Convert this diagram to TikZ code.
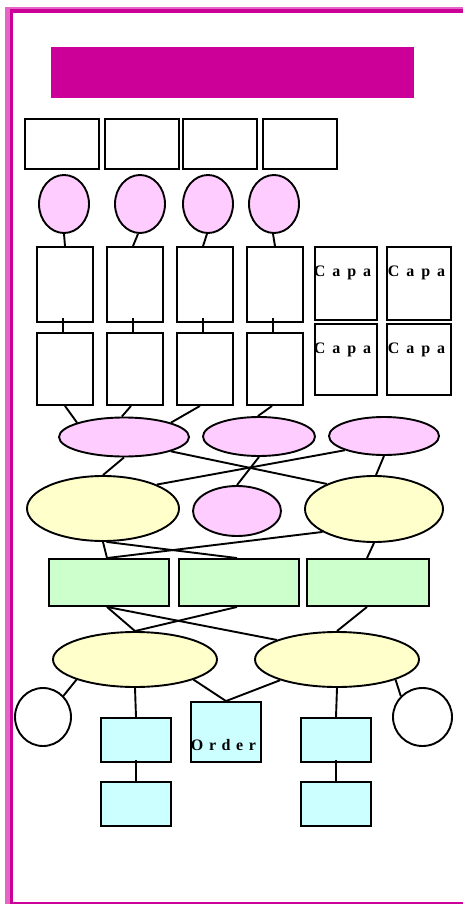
\documentclass[tikz,border=0pt]{standalone}
\usepackage{fontspec}
\newfontfamily\capafont{Liberation Serif}
\usetikzlibrary{shapes.geometric}
\definecolor{mag}{RGB}{204,0,153}
\definecolor{lpink}{RGB}{228,102,196}
\definecolor{pinkfill}{RGB}{255,204,255}
\definecolor{yel}{RGB}{255,255,204}
\definecolor{grn}{RGB}{204,255,204}
\definecolor{cyn}{RGB}{204,255,255}
\newcommand\gapsp{\hspace{6.9pt}}
\newcommand\gapso{\hspace{5.6pt}}
\begin{document}
\begin{tikzpicture}[x=1pt,y=-1pt,line width=1.9pt,
  box/.style={draw=black,rectangle,inner sep=0pt,line width=1.9pt},
  ell/.style={draw=black,ellipse,inner sep=0pt,line width=1.9pt},
  lab/.style={font=\capafont\bfseries\fontsize{16}{16}\selectfont,inner sep=0pt,anchor=west},
  conn/.style={draw=black,line width=1.9pt}]
\useasboundingbox (0,0) rectangle (463,904);
% frame
\fill[lpink] (5,7) rectangle (10,904);
\fill[lpink] (5,7) rectangle (463,9.5);
\fill[mag] (10,9.5) rectangle (13,904);
\fill[mag] (10,9.5) rectangle (463,13);
\fill[mag] (10,902) rectangle (463,904);
% title
\node[fill=mag,rectangle,inner sep=0pt,minimum width=363pt,minimum height=51pt] (title) at (232.5,72.5) {};
% top row
\foreach \n/\x in {1/62,2/142,3/220,4/300}
  \node[box,minimum width=74pt,minimum height=50pt] (T\n) at (\x,144) {};
% pink circles
\foreach \n/\x in {1/64,2/140,3/208,4/274}
  \node[ell,fill=pinkfill,minimum width=50pt,minimum height=58pt] (P\n) at (\x,204) {};
% box rows
\foreach \n/\x in {1/65,2/135,3/205,4/275}{
  \node[box,minimum width=56pt,minimum height=75pt] (R\n) at (\x,284.5) {};
  \node[box,minimum width=56pt,minimum height=72pt] (S\n) at (\x,369) {};
}
% capa boxes
\node[box,minimum width=62pt,minimum height=73pt] (C1) at (346,283.5) {};
\node[box,minimum width=64pt,minimum height=73pt] (C2) at (419,283.5) {};
\node[box,minimum width=62pt,minimum height=71pt] (C3) at (346,359.5) {};
\node[box,minimum width=64pt,minimum height=71pt] (C4) at (419,359.5) {};
\node[lab] (c1t) at (313,273) {C\gapsp a\gapsp p\gapsp a};
\node[lab] (c2t) at (387,273) {C\gapsp a\gapsp p\gapsp a};
\node[lab] (c3t) at (313,350) {C\gapsp a\gapsp p\gapsp a};
\node[lab] (c4t) at (387,350) {C\gapsp a\gapsp p\gapsp a};
% pink ellipses
\node[ell,fill=pinkfill,minimum width=130pt,minimum height=39pt] (A) at (124,437) {};
\node[ell,fill=pinkfill,minimum width=112pt,minimum height=39pt] (B) at (259,436.5) {};
\node[ell,fill=pinkfill,minimum width=110pt,minimum height=38pt] (C) at (384,436) {};
% yellow + pink
\node[ell,fill=yel,minimum width=152pt,minimum height=65pt] (D) at (103,508.5) {};
\node[ell,fill=pinkfill,minimum width=88pt,minimum height=50pt] (E) at (237,511) {};
\node[ell,fill=yel,minimum width=138pt,minimum height=66pt] (F) at (374,509) {};
% green
\node[box,fill=grn,minimum width=120pt,minimum height=47pt] (G1) at (109,582.5) {};
\node[box,fill=grn,minimum width=120pt,minimum height=47pt] (G2) at (239,582.5) {};
\node[box,fill=grn,minimum width=122pt,minimum height=47pt] (G3) at (368,582.5) {};
% lower yellow
\node[ell,fill=yel,minimum width=164pt,minimum height=55pt] (H) at (135,659.5) {};
\node[ell,fill=yel,minimum width=164pt,minimum height=55pt] (I) at (337,659.5) {};
% white circles
\node[ell,minimum width=56pt,minimum height=58pt] (L) at (43,717) {};
\node[ell,minimum width=59pt,minimum height=58pt] (Rt) at (422.5,717) {};
% cyan boxes
\node[box,fill=cyn,minimum width=70pt,minimum height=44pt] (J1) at (136,740) {};
\node[box,fill=cyn,minimum width=70pt,minimum height=60pt] (O) at (226,732) {};
\node[box,fill=cyn,minimum width=70pt,minimum height=44pt] (J2) at (336,740) {};
\node[box,fill=cyn,minimum width=70pt,minimum height=44pt] (K1) at (136,804) {};
\node[box,fill=cyn,minimum width=70pt,minimum height=44pt] (K2) at (336,804) {};
\node[lab] (ot) at (190,745) {O\gapso r\gapso d\gapso e\gapso r};
% connectors
\draw[conn] (P1.south) -- (R1.north);
\draw[conn] ([xshift=-2pt]P2.south) -- ([xshift=-2pt]R2.north);
\draw[conn] ([xshift=-1pt]P3.south) -- ([xshift=-2pt]R3.north);
\draw[conn] ([xshift=-1pt]P4.south) -- (R4.north);
\foreach \n in {1,2,3,4}
  \draw[conn] ([xshift=-2pt,yshift=5pt]R\n.south) -- ([xshift=-2pt]S\n.north);
\draw[conn] (S1.south) -- (A.163);
\draw[conn] ([xshift=-4pt]S2.south) -- (A.96);
\draw[conn] ([xshift=-5pt]S3.south) -- (A.17);
\draw[conn] ([xshift=-3pt]S4.south) -- (B.93);
\draw[conn] (A.south) -- (D.north);
\draw[conn] (A.-17) -- (F.152);
\draw[conn] (B.south) -- (E.north);
\draw[conn] (C.200) -- (D.24);
\draw[conn] (C.south) -- ([xshift=2pt]F.north);
\draw[conn] (D.south) -- ([xshift=-2pt]G1.north);
\draw[conn] (D.-84) -- ([xshift=-2pt]G2.north);
\draw[conn] (F.204) -- ([xshift=-2pt]G1.north);
\draw[conn] (F.south) -- ([xshift=-1pt]G3.north);
\draw[conn] ([xshift=-2pt]G1.south) -- (H.north);
\draw[conn] ([xshift=-2pt]G1.south) -- (I.162);
\draw[conn] ([xshift=-2pt]G2.south) -- (H.north);
\draw[conn] ([xshift=-1pt]G3.south) -- (I.north);
\draw[conn] (H.199) -- (L.46);
\draw[conn] (H.south) -- (J1.north);
\draw[conn] (H.-19) -- (O.north);
\draw[conn] (I.200) -- (O.north);
\draw[conn] (I.south) -- (J2.north);
\draw[conn] (I.-19) -- (Rt.136);
\draw[conn] ([yshift=3pt]J1.south) -- (K1.north);
\draw[conn] ([yshift=3pt]J2.south) -- (K2.north);
\end{tikzpicture}
\end{document}
